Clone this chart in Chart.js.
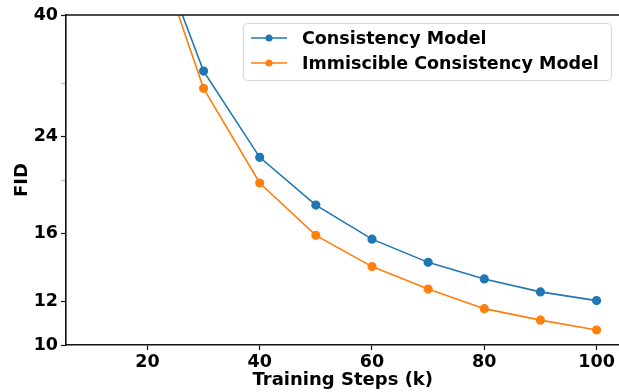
<!DOCTYPE html>
<html>
<head>
<meta charset="utf-8">
<script src="https://cdn.jsdelivr.net/npm/chart.js@4.4.1/dist/chart.umd.min.js"></script>
<style>
  html, body { margin: 0; padding: 0; background: #fff; overflow: hidden; }
  #wrap { width: 619px; height: 392px; overflow: hidden; }
</style>
</head>
<body>
<div id="wrap"><canvas id="chart" width="625" height="392"></canvas></div>
<script>
// 数据
const steps = [10, 20, 30, 40, 50, 60, 70, 80, 90, 100];
const consistency = [110, 59, 31.6, 22.0, 18.0, 15.6, 14.15, 13.2, 12.5, 12.05];
const immiscible = [105, 58.5, 29.4, 19.75, 15.85, 13.9, 12.65, 11.65, 11.1, 10.65];
const seriesNames = ['Consistency Model', 'Immiscible Consistency Model'];
const xTicks = [20, 40, 60, 80, 100];
const yTicks = [10, 12, 16, 24, 40];
const yMinorTicks = [20, 30];

const BLUE = '#1f77b4';
const ORANGE = '#ff7f0e';
const FONT = 'DejaVu Sans';

// 顶部边框 + 图例
const framePlugin = {
    id: 'frame',
    afterDatasetsDraw(chart) {
        const { ctx, chartArea } = chart;
        ctx.save();
        ctx.strokeStyle = '#111';
        ctx.lineWidth = 1.6;
        ctx.beginPath();
        ctx.moveTo(chartArea.left - 0.8, chartArea.top);
        ctx.lineTo(chartArea.right + 2, chartArea.top);
        ctx.stroke();

        // 图例框
        const bx = 243.5, by = 23.5, bw = 368, bh = 57;
        ctx.fillStyle = 'rgba(255,255,255,0.85)';
        ctx.strokeStyle = '#d6d6d6';
        ctx.lineWidth = 1;
        ctx.beginPath();
        ctx.roundRect(bx, by, bw, bh, 4);
        ctx.fill();
        ctx.stroke();

        const colors = [BLUE, ORANGE];
        const rows = [38, 63];
        ctx.font = 'bold 17.5px "' + FONT + '"';
        ctx.textBaseline = 'middle';
        seriesNames.forEach((name, i) => {
            const y = rows[i];
            ctx.strokeStyle = colors[i];
            ctx.lineWidth = 1.6;
            ctx.beginPath();
            ctx.moveTo(251, y);
            ctx.lineTo(287, y);
            ctx.stroke();
            ctx.fillStyle = colors[i];
            ctx.beginPath();
            ctx.arc(269, y, 3.5, 0, Math.PI * 2);
            ctx.fill();
            ctx.fillStyle = '#000';
            ctx.fillText(name, 302, y + 1);
        });
        ctx.restore();
    }
};

new Chart(document.getElementById('chart'), {
    type: 'line',
    data: {
        datasets: [
            {
                label: seriesNames[0],
                data: steps.map((s, i) => ({ x: s, y: consistency[i] })),
                borderColor: BLUE,
                backgroundColor: BLUE,
                borderWidth: 1.6,
                pointRadius: 3.8,
                pointHoverRadius: 3.8,
                tension: 0
            },
            {
                label: seriesNames[1],
                data: steps.map((s, i) => ({ x: s, y: immiscible[i] })),
                borderColor: ORANGE,
                backgroundColor: ORANGE,
                borderWidth: 1.6,
                pointRadius: 3.8,
                pointHoverRadius: 3.8,
                tension: 0
            }
        ]
    },
    options: {
        responsive: false,
        animation: false,
        events: [],
        layout: { padding: { top: 15, right: 0, left: 0, bottom: 0 } },
        plugins: {
            legend: { display: false },
            tooltip: { enabled: false }
        },
        scales: {
            x: {
                type: 'linear',
                min: 5.5,
                max: 104.1,
                afterBuildTicks: axis => { axis.ticks = xTicks.map(v => ({ value: v })); },
                afterFit: axis => {
                    axis.height = 47;
                },
                grid: { drawOnChartArea: false, tickLength: 5, tickColor: '#111', tickWidth: 1.2 },
                border: { color: '#111', width: 1.6 },
                ticks: {
                    color: '#000',
                    padding: 2,
                    maxRotation: 0,
                    font: { family: FONT, size: 17.5, weight: 'bold' }
                },
                title: {
                    display: true,
                    text: 'Training Steps (k)',
                    color: '#000',
                    padding: { top: 0, bottom: 1 },
                    font: { family: FONT, size: 18, weight: 'bold' }
                }
            },
            y: {
                type: 'logarithmic',
                min: 10,
                max: 40,
                afterBuildTicks: axis => {
                    axis.ticks = yTicks.concat(yMinorTicks).sort((a, b) => a - b).map(v => ({ value: v, major: yTicks.includes(v) }));
                },
                afterFit: axis => {
                    axis.width = 66;
                },
                grid: {
                    drawOnChartArea: false,
                    tickLength: 5,
                    tickColor: c => (yMinorTicks.includes(c.tick.value) ? '#bbb' : '#111'),
                    tickWidth: 1.2
                },
                border: { color: '#111', width: 1.6 },
                ticks: {
                    color: '#000',
                    padding: 3,
                    autoSkip: false,
                    callback: v => (yTicks.includes(v) ? String(v) : ''),
                    font: { family: FONT, size: 17.5, weight: 'bold' }
                },
                title: {
                    display: true,
                    text: 'FID',
                    color: '#000',
                    padding: { top: 12, bottom: 0 },
                    font: { family: FONT, size: 18, weight: 'bold' }
                }
            }
        }
    },
    plugins: [framePlugin]
});
</script>
</body>
</html>
